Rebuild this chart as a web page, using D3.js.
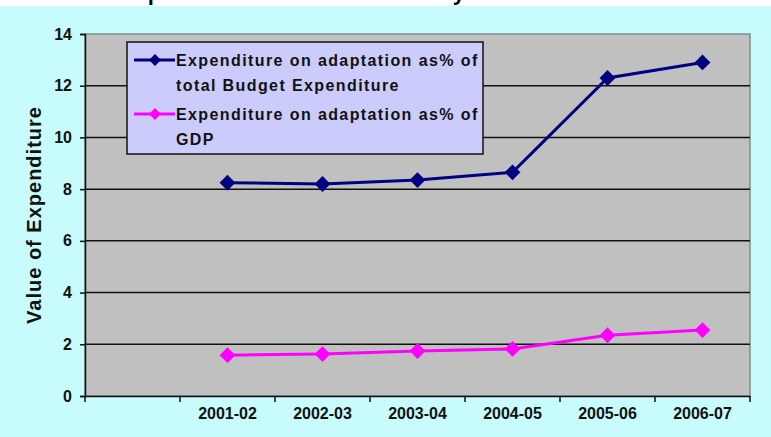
<!DOCTYPE html>
<html><head><meta charset="utf-8">
<script src="https://cdn.jsdelivr.net/npm/d3@7"></script>
<style>body{margin:0;padding:0;background:#fff}svg{display:block}</style>
</head><body>
<script>
const categories = ["", "2001-02", "2002-03", "2003-04", "2004-05", "2005-06", "2006-07"];
const periods = ["2001-02", "2002-03", "2003-04", "2004-05", "2005-06", "2006-07"];
const budgetShare = [8.25, 8.2, 8.35, 8.65, 12.3, 12.9];
const gdpShare = [1.58, 1.62, 1.74, 1.82, 2.35, 2.55];
const yTicks = [0, 2, 4, 6, 8, 10, 12, 14];
const seriesNames = ["Expenditure on adaptation as% of|total Budget Expenditure", "Expenditure on adaptation as% of|GDP"];
const seriesColors = ["#000080", "#ff00ff"];
const titleText = "Expenditure on Resilience Activity";

const W = 771, H = 437;
const m = {left: 85, right: 21, top: 34, bottom: 41};
const svg = d3.select("body").append("svg").attr("width", W).attr("height", H);
svg.append("rect").attr("width", W).attr("height", H).attr("fill", "#ffffff");
svg.append("text").attr("x", 125).attr("y", 0).attr("font-family", "Open Sans").attr("font-weight", "bold")
  .attr("font-size", 20).attr("fill", "#000").text(titleText);
svg.append("rect").attr("x", 0).attr("y", 6).attr("width", W).attr("height", H - 6).attr("fill", "#c8fcfc");

const x = d3.scaleBand().domain(categories).range([m.left, W - m.right]);
const y = d3.scaleLinear().domain([0, 14]).range([H - m.bottom, m.top]);
const font = "'Liberation Sans', Arial, sans-serif";

svg.append("rect").attr("x", m.left).attr("y", m.top).attr("width", W - m.right - m.left)
  .attr("height", H - m.bottom - m.top).attr("fill", "#c0c0c0").attr("stroke", "#7f8f8f").attr("stroke-width", 1.5);

// gridlines
svg.append("g").selectAll("line").data(yTicks.filter(d => d > 0 && d < 14)).join("line")
  .attr("x1", m.left).attr("x2", W - m.right).attr("y1", d => y(d)).attr("y2", d => y(d))
  .attr("stroke", "#111").attr("stroke-width", 1.5);

// y axis
const ya = svg.append("g").attr("transform", `translate(${m.left},0)`)
  .call(d3.axisLeft(y).tickValues(yTicks).tickSize(5).tickPadding(8));
ya.select(".domain").attr("stroke", "#111").attr("stroke-width", 1.5);
ya.selectAll(".tick line").attr("stroke", "#111").attr("stroke-width", 1.5);
ya.selectAll("text").attr("font-family", font).attr("font-weight", "bold").attr("font-size", 16).attr("fill", "#111");

// x axis
const xa = svg.append("g").attr("transform", `translate(0,${H - m.bottom})`)
  .call(d3.axisBottom(x).tickSize(0).tickPadding(9));
xa.select(".domain").attr("stroke", "#111").attr("stroke-width", 1.5);
xa.selectAll("text").attr("font-family", font).attr("font-weight", "bold").attr("font-size", 16).attr("fill", "#111")
  .attr("dy", "0.85em");
svg.append("g").selectAll("line").data(categories.concat(["_end"])).join("line")
  .attr("x1", (d, i) => m.left + i * x.step()).attr("x2", (d, i) => m.left + i * x.step())
  .attr("y1", H - m.bottom).attr("y2", H - m.bottom + 6).attr("stroke", "#111").attr("stroke-width", 1.5);

// y label
svg.append("text").attr("transform", `translate(34,${(m.top + H - m.bottom) / 2}) rotate(-90)`)
  .attr("text-anchor", "middle").attr("font-family", font).attr("font-weight", "bold").attr("font-size", 20)
  .attr("letter-spacing", 1).attr("dy", "0.35em")
  .attr("fill", "#111").text("Value of Expenditure");

const diamond = d3.symbol().type(d3.symbolDiamond2).size(160);
const line = d3.line().x((d, i) => x(periods[i]) + x.bandwidth() / 2).y(d => y(d));
[budgetShare, gdpShare].forEach((s, k) => {
  svg.append("path").datum(s).attr("d", line).attr("fill", "none").attr("stroke", seriesColors[k]).attr("stroke-width", 3);
  svg.append("g").selectAll("path").data(s).join("path")
    .attr("transform", (d, i) => `translate(${x(periods[i]) + x.bandwidth() / 2},${y(d)})`)
    .attr("d", diamond).attr("fill", seriesColors[k]);
});

// legend
const lg = svg.append("g");
lg.append("rect").attr("x", 127).attr("y", 42).attr("width", 356).attr("height", 112)
  .attr("fill", "#ccccfc").attr("stroke", "#111").attr("stroke-width", 1.5);
const rowsY = [60, 114];
seriesNames.forEach((n, k) => {
  lg.append("line").attr("x1", 134).attr("x2", 175).attr("y1", rowsY[k]).attr("y2", rowsY[k])
    .attr("stroke", seriesColors[k]).attr("stroke-width", 3);
  lg.append("path").attr("transform", `translate(155,${rowsY[k]})`).attr("d", d3.symbol().type(d3.symbolDiamond2).size(90)).attr("fill", seriesColors[k]);
  n.split("|").forEach((t, j) => {
    lg.append("text").attr("x", 176).attr("y", rowsY[k] + 6 + j * 25).attr("font-family", font)
      .attr("font-weight", "bold").attr("font-size", 16).attr("letter-spacing", 1.4).attr("fill", "#111").text(t);
  });
});
</script>
</body></html>
